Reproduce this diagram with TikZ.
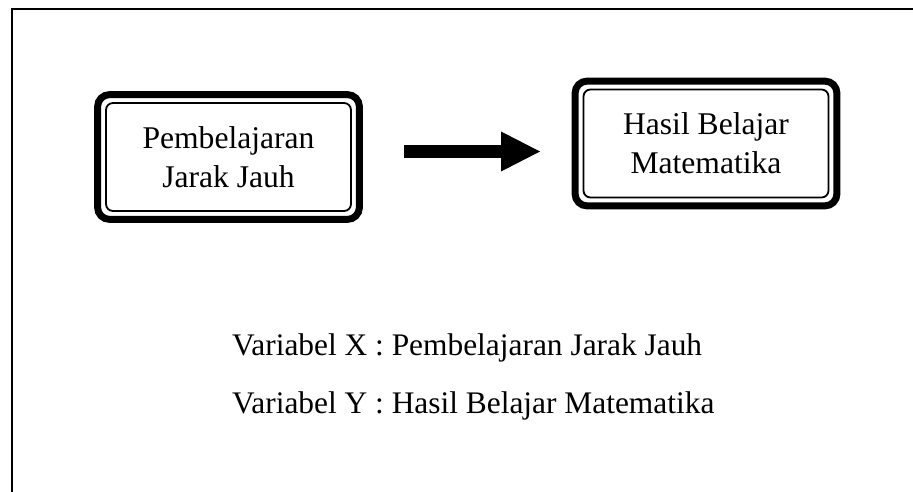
\documentclass[tikz,border=0pt]{standalone}
\usepackage{fontspec}
\setmainfont{Liberation Serif}
\usetikzlibrary{arrows.meta}
\tikzset{
  thinbox/.style={draw, line width=1.8pt, rounded corners=7pt, minimum width=245pt,
    minimum height=108pt, inner sep=0pt, align=center,
    font=\fontsize{31.6}{39}\selectfont},
  thickframe/.style={line width=7pt, rounded corners=12pt},
  caption/.style={anchor=base west, inner sep=0pt, font=\fontsize{31.4}{39}\selectfont},
  bigarrow/.style={line width=13pt, -{Triangle[length=39pt, width=40pt, line width=0pt]}},
}
\begin{document}
\begin{tikzpicture}[x=1pt, y=-1pt]
  \useasboundingbox (0,0) rectangle (913,492);
  \clip (0,0) rectangle (913,492);
  % outer page frame (only top and left edges visible)
  \draw[line width=2pt] (11.7,520) -- (11.7,9) -- (940,9);
  % boxes
  \node[thinbox] (x) at (228.5,157) {Pembelajaran\\Jarak Jauh};
  \node[thinbox] (y) at (706,143.5) {Hasil Belajar\\Matematika};
  \draw[thickframe] ([shift={(-7.5pt,7.5pt)}]x.north west) rectangle ([shift={(7.5pt,-7.5pt)}]x.south east);
  \draw[thickframe] ([shift={(-7.5pt,7.5pt)}]y.north west) rectangle ([shift={(7.5pt,-7.5pt)}]y.south east);
  % arrow
  \coordinate (as) at (404,151.5);
  \coordinate (ae) at (540,151.5);
  \draw[bigarrow] (as) -- (ae);
  % captions
  \node[caption] (cx) at (232,355) {Variabel X : Pembelajaran Jarak Jauh};
  \node[caption] (cy) at (232,413) {Variabel Y : Hasil Belajar Matematika};
\end{tikzpicture}
\end{document}
